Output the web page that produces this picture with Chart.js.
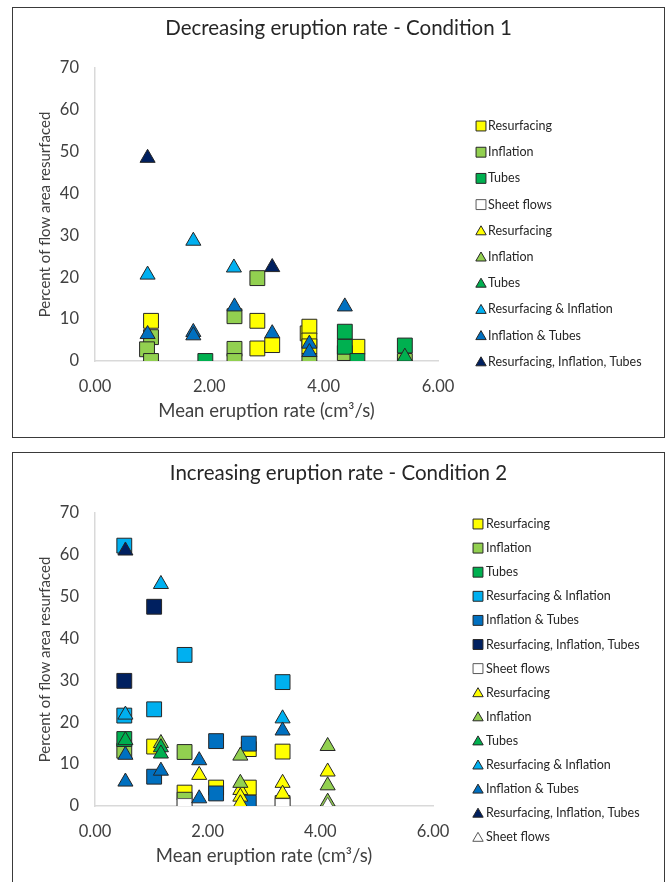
<!DOCTYPE html>
<html><head><meta charset="utf-8">
<script src="https://cdn.jsdelivr.net/npm/chart.js@4.4.1/dist/chart.umd.min.js"></script>
<style>
html,body{margin:0;padding:0;background:#fff;width:667px;height:882px;overflow:hidden;}
.box{position:absolute;left:12px;width:651px;border:1px solid #3a3a3a;background:#fff;}
#b1{top:7px;height:429px;}
#b2{top:452px;height:440px;}
canvas{display:block;}
</style></head><body>
<div class="box" id="b1"><canvas id="c1" width="651" height="429"></canvas></div>
<div class="box" id="b2"><canvas id="c2" width="651" height="429"></canvas></div>
<script>
// ---------- DATA ----------
const xTickValues = [0, 2, 4, 6];
const xTickLabels = ['0.00', '2.00', '4.00', '6.00'];
const yTickValues = [0, 10, 20, 30, 40, 50, 60, 70];
const yTickLabels = ['0', '10', '20', '30', '40', '50', '60', '70'];

const title1 = 'Decreasing eruption rate - Condition 1';
const title2 = 'Increasing eruption rate - Condition 2';
const xAxisTitle = 'Mean eruption rate (cm\u00B3/s)';
const yAxisTitle = 'Percent of flow area resurfaced';

// Condition 1 (decreasing)  [x, y]
const c1SqResurfacing = [[0.98,9.6],[2.84,9.6],[2.84,3.0],[3.10,3.8],[3.72,6.6],[3.75,8.2],[3.75,4.9],[3.75,3.5],[4.59,3.4]];
const c1SqInflation   = [[0.98,5.7],[0.91,2.8],[0.98,0],[2.44,10.7],[2.44,2.9],[2.44,0],[2.84,19.8],[3.75,0],[4.37,1.9],[5.42,0]];
const c1SqTubes       = [[1.93,0],[4.37,7.0],[4.37,3.4],[4.59,0],[5.42,3.7]];
const c1SqSheet       = [];
const c1TriResurfacing = [];
const c1TriInflation   = [];
const c1TriTubes       = [[5.42,1.0]];
const c1TriResInf      = [[0.92,20.6],[1.72,28.7],[2.43,22.3]];
const c1TriInfTubes    = [[0.92,6.4],[1.72,6.9],[1.72,6.1],[2.44,13.0],[3.10,6.6],[3.75,4.1],[3.75,2.1],[4.37,13.0]];
const c1TriResInfTubes = [[0.92,48.5],[3.10,22.4]];

// Condition 2 (increasing)  [x, y]
const c2SqResurfacing = [[1.05,14.2],[1.59,3.2],[2.15,4.4],[2.73,13.6],[2.73,4.4],[3.33,13.0]];
const c2SqInflation   = [[0.52,13.2],[1.59,12.9],[1.59,1.5],[3.33,0.7]];
const c2SqTubes       = [[0.52,16.0]];
const c2SqResInf      = [[0.52,62.2],[0.52,21.6],[1.05,23.1],[1.59,36.1],[3.33,29.6]];
const c2SqInfTubes    = [[1.05,7.0],[2.15,15.5],[2.15,3.0],[2.73,14.9],[2.73,0.8]];
const c2SqResInfTubes = [[0.52,29.9],[1.05,47.6]];
const c2SqSheet       = [[1.59,0],[3.33,0]];
const c2TriResurfacing = [[1.85,7.4],[2.58,3.8],[2.58,2.2],[2.58,0.6],[3.33,5.5],[3.33,2.9],[4.13,8.2]];
const c2TriInflation   = [[1.17,15.0],[2.58,12.0],[2.58,5.5],[4.13,14.3],[4.13,4.9],[4.13,1.0]];
const c2TriTubes       = [[0.54,15.7],[1.17,14.0],[1.17,12.5]];
const c2TriResInf      = [[0.54,21.8],[1.17,53.0],[3.33,20.9]];
const c2TriInfTubes    = [[0.54,12.2],[0.54,5.8],[1.17,8.4],[1.85,10.9],[1.85,1.8],[3.33,18.0]];
const c2TriResInfTubes = [[0.54,61.0]];
const c2TriSheet       = [[4.13,0]];

// ---------- STYLE ----------
const FONT = 'Lato, "Open Sans", sans-serif';
const COL = {
  res: '#FFFF00', inf: '#92D050', tub: '#00B050',
  ri: '#00B0F0', it: '#0070C0', rit: '#002060', sheet: '#FFFFFF'
};

const series1 = [
  {label:'Resurfacing', shape:'rect', color:COL.res, data:c1SqResurfacing},
  {label:'Inflation', shape:'rect', color:COL.inf, data:c1SqInflation},
  {label:'Tubes', shape:'rect', color:COL.tub, data:c1SqTubes},
  {label:'Sheet flows', shape:'rect', color:COL.sheet, data:c1SqSheet},
  {label:'Resurfacing', shape:'triangle', color:COL.res, data:c1TriResurfacing},
  {label:'Inflation', shape:'triangle', color:COL.inf, data:c1TriInflation},
  {label:'Tubes', shape:'triangle', color:COL.tub, data:c1TriTubes},
  {label:'Resurfacing & Inflation', shape:'triangle', color:COL.ri, data:c1TriResInf},
  {label:'Inflation & Tubes', shape:'triangle', color:COL.it, data:c1TriInfTubes},
  {label:'Resurfacing, Inflation, Tubes', shape:'triangle', color:COL.rit, data:c1TriResInfTubes}
];
const series2 = [
  {label:'Resurfacing', shape:'rect', color:COL.res, data:c2SqResurfacing},
  {label:'Inflation', shape:'rect', color:COL.inf, data:c2SqInflation},
  {label:'Tubes', shape:'rect', color:COL.tub, data:c2SqTubes},
  {label:'Resurfacing & Inflation', shape:'rect', color:COL.ri, data:c2SqResInf},
  {label:'Inflation & Tubes', shape:'rect', color:COL.it, data:c2SqInfTubes},
  {label:'Resurfacing, Inflation, Tubes', shape:'rect', color:COL.rit, data:c2SqResInfTubes},
  {label:'Sheet flows', shape:'rect', color:COL.sheet, data:c2SqSheet},
  {label:'Resurfacing', shape:'triangle', color:COL.res, data:c2TriResurfacing},
  {label:'Inflation', shape:'triangle', color:COL.inf, data:c2TriInflation},
  {label:'Tubes', shape:'triangle', color:COL.tub, data:c2TriTubes},
  {label:'Resurfacing & Inflation', shape:'triangle', color:COL.ri, data:c2TriResInf},
  {label:'Inflation & Tubes', shape:'triangle', color:COL.it, data:c2TriInfTubes},
  {label:'Resurfacing, Inflation, Tubes', shape:'triangle', color:COL.rit, data:c2TriResInfTubes},
  {label:'Sheet flows', shape:'triangle', color:COL.sheet, data:c2TriSheet}
];

const sideLegend = {
  id: 'sideLegend',
  afterDraw(chart, args, opts) {
    const ctx = chart.ctx;
    ctx.save();
    chart.data.datasets.forEach((ds, i) => {
      const y = opts.y0 + i * opts.dy;
      const isSq = ds.pointStyle === 'rect';
      ctx.fillStyle = ds.backgroundColor;
      ctx.strokeStyle = ds.borderColor;
      ctx.lineWidth = 1;
      Chart.helpers.drawPoint(ctx, {pointStyle: ds.pointStyle, radius: isSq ? 7 : 6, rotation: 0, borderWidth: 1},
        opts.mx, isSq ? y : y + 1);
      ctx.fillStyle = '#262626';
      ctx.font = opts.fontSize + 'px ' + FONT;
      ctx.textBaseline = 'middle';
      ctx.textAlign = 'left';
      ctx.fillText(ds.label, opts.tx, y);
    });
    ctx.restore();
  }
};

function makeChart(id, title, series, legendOpts, rightSpace) {
  const n = series.length;
  return new Chart(document.getElementById(id), {
    type: 'scatter',
    data: {
      datasets: series.map((s, i) => ({
        label: s.label,
        data: s.data.map(p => ({x: p[0], y: p[1]})),
        xAxisID: 'x', yAxisID: 'y',
        pointStyle: s.shape,
        pointRadius: s.shape === 'rect' ? 10.5 : 8.7,
        pointHoverRadius: s.shape === 'rect' ? 10.5 : 8.7,
        backgroundColor: s.color,
        borderColor: s.color === COL.sheet ? '#595959' : '#262626',
        borderWidth: 1,
        order: n - i
      }))
    },
    options: {
      responsive: false,
      animation: false,
      events: [],
      layout: {padding: 0},
      plugins: {
        legend: {display: false},
        tooltip: {enabled: false},
        title: {display: true, text: title, color: '#262626',
          font: {family: FONT, size: 20.5, weight: 'normal'}, padding: {top: 8, bottom: 27.4}},
        sideLegend: legendOpts
      },
      scales: {
        x: {
          type: 'linear', min: 0, max: 6,
          afterFit: s => { s.height = 76; },
          afterBuildTicks: s => { s.ticks = xTickValues.map(v => ({value: v})); },
          ticks: {callback: v => xTickLabels[xTickValues.indexOf(v)], color: '#404040',
            font: {family: FONT, size: 16.5}, padding: 16, maxRotation: 0},
          grid: {display: false, drawTicks: false},
          border: {display: true, color: '#d9d9d9', width: 1.5},
          title: {display: true, text: xAxisTitle, color: '#404040',
            font: {family: FONT, size: 18.5}, padding: {top: 0, bottom: 15}}
        },
        y: {
          position: 'left', min: 0, max: 70,
          afterFit: s => { s.width = 82; },
          afterBuildTicks: s => { s.ticks = yTickValues.map(v => ({value: v})); },
          ticks: {callback: v => yTickLabels[yTickValues.indexOf(v)], color: '#404040',
            font: {family: FONT, size: 16.5}, padding: 16},
          grid: {display: false, drawTicks: false},
          border: {display: true, color: '#d9d9d9', width: 1.5},
          title: {display: true, text: yAxisTitle, color: '#404040',
            font: {family: FONT, size: 15}, padding: {top: 23, bottom: 0}}
        },
        legendSpace: {
          type: 'linear', position: 'right', min: 0, max: 70,
          afterFit: s => { s.width = rightSpace; },
          ticks: {display: false},
          grid: {display: false, drawTicks: false},
          border: {display: false}
        }
      }
    },
    plugins: [sideLegend]
  });
}

makeChart('c1', title1, series1, {mx: 468, tx: 475, y0: 118, dy: 26.2, fontSize: 12.5}, 226);
makeChart('c2', title2, series2, {mx: 465, tx: 473, y0: 71, dy: 24.1, fontSize: 12.5}, 231);
</script>
</body></html>
